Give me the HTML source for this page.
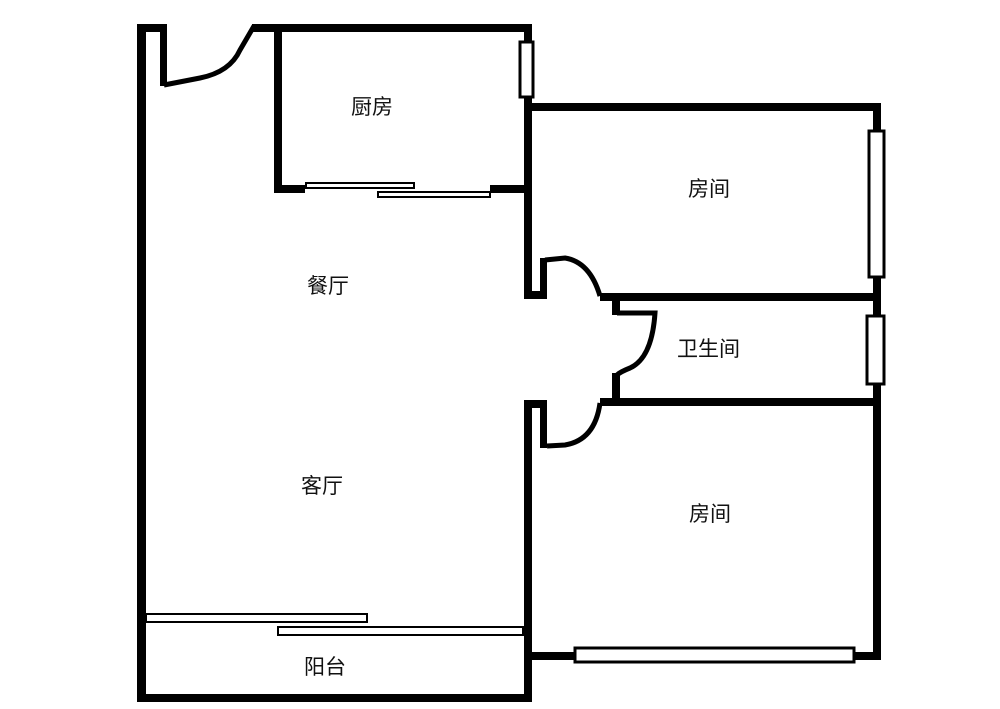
<!DOCTYPE html><html><head><style>body{margin:0;background:#fff}svg{display:block}text{font-family:"Liberation Sans","Noto Sans CJK SC",sans-serif;font-size:21px;fill:#111}</style></head><body>
<svg width="1000" height="709" viewBox="0 0 1000 709">
<g fill="#000">
<rect x="137" y="24" width="9" height="678"/>
<rect x="137" y="24" width="30" height="8"/>
<rect x="160" y="24" width="7" height="62"/>
<rect x="252" y="24" width="280" height="8"/>
<rect x="274" y="24" width="8" height="169"/>
<rect x="274" y="185" width="31" height="8"/>
<rect x="490" y="185" width="42" height="8"/>
<rect x="524" y="24" width="8" height="275"/>
<rect x="524" y="103" width="357" height="8"/>
<rect x="873" y="103" width="8" height="557"/>
<rect x="524" y="291" width="22" height="8"/>
<rect x="540" y="258" width="7" height="41"/>
<rect x="600" y="293" width="281" height="8"/>
<rect x="612" y="293" width="8" height="22"/>
<rect x="612" y="373" width="8" height="33"/>
<rect x="600" y="398" width="281" height="8"/>
<rect x="524" y="400" width="8" height="302"/>
<rect x="524" y="400" width="22" height="8"/>
<rect x="540" y="400" width="7" height="48"/>
<rect x="137" y="694" width="395" height="8"/>
<rect x="524" y="652" width="52" height="8"/>
<rect x="853" y="652" width="28" height="8"/>
</g>
<g fill="none" stroke="#000" stroke-width="5">
<path d="M164 85 L200 78 Q230 72 240 50 L254 26"/>
<path d="M545 260 L565 258 Q590 262 600 296"/>
<path d="M617 313 L655 313 Q652 358 630 368 Q620 372 617 375"/>
<path d="M547 446 L565 445 Q595 440 600 403"/>
</g>
<g fill="#fff" stroke="#000" stroke-width="3">
<rect x="520" y="42" width="13" height="55"/>
<rect x="869" y="131" width="15" height="146"/>
<rect x="867" y="316" width="17" height="68"/>
<rect x="575" y="648" width="279" height="14"/>
</g>
<g fill="#fff" stroke="#000" stroke-width="2">
<rect x="306" y="183" width="108" height="5"/>
<rect x="378" y="192" width="112" height="5"/>
<rect x="146" y="614" width="221" height="8"/>
<rect x="278" y="627" width="245" height="8"/>
</g>
<text x="351" y="114">厨房</text>
<text x="688" y="196">房间</text>
<text x="307" y="293">餐厅</text>
<text x="677" y="356">卫生间</text>
<text x="301" y="493">客厅</text>
<text x="689" y="521">房间</text>
<text x="304" y="674">阳台</text>
</svg></body></html>
